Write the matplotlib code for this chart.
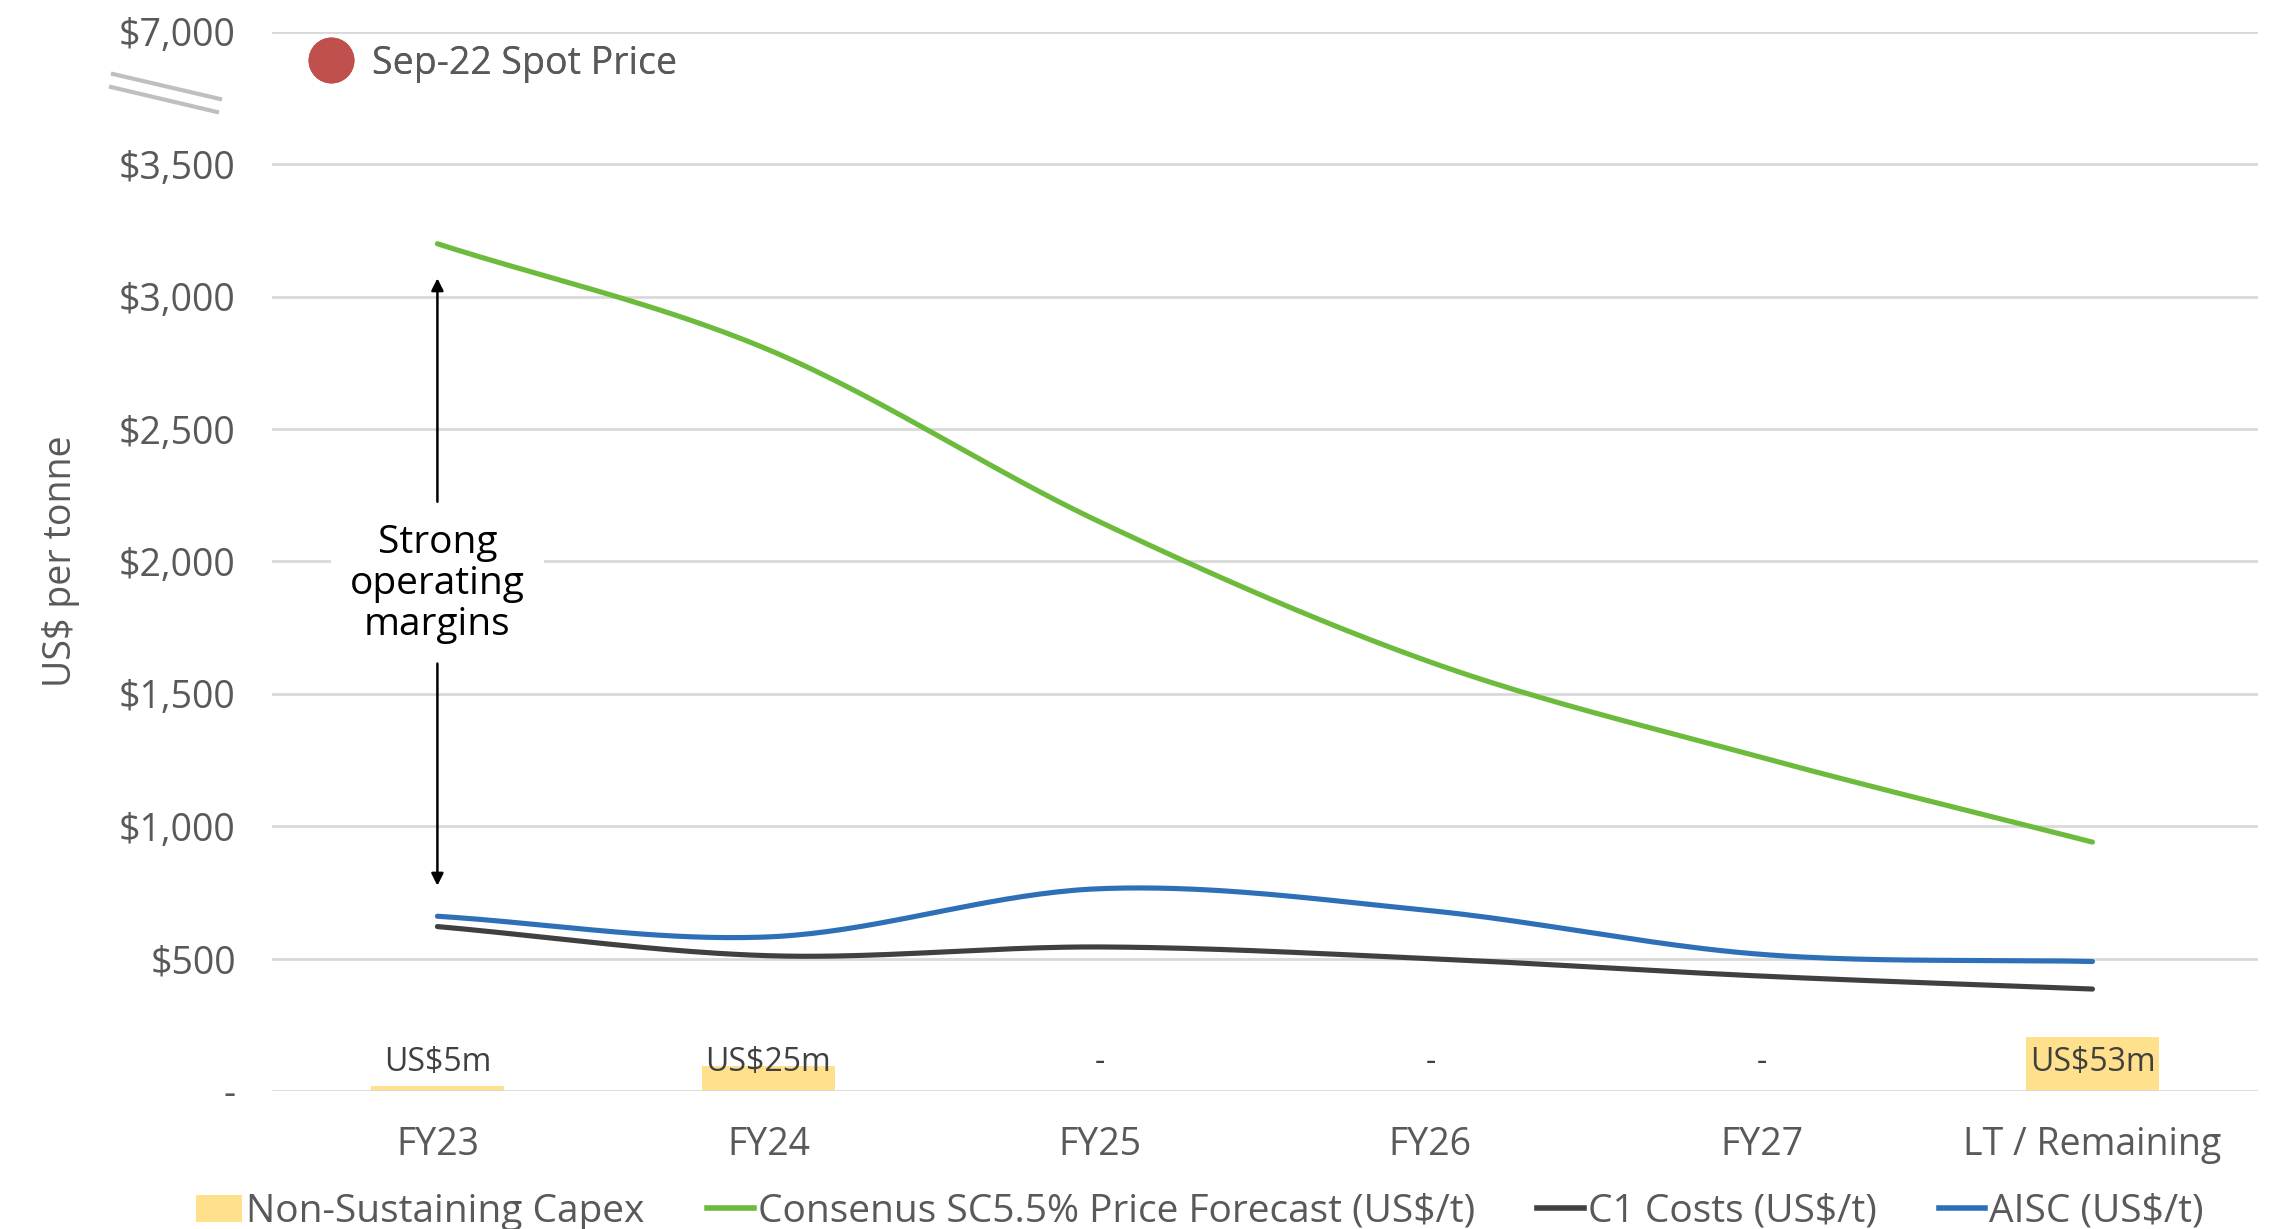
import numpy as np
import matplotlib.pyplot as plt
from matplotlib.lines import Line2D
from matplotlib.patches import Patch

plt.rcParams['font.family'] = ['Open Sans', 'DejaVu Sans']

# chart data
categories = ['FY23', 'FY24', 'FY25', 'FY26', 'FY27', 'LT / Remaining']
price_forecast = [3200, 2800, 2150, 1620, 1260, 940]
aisc = [660, 582, 764, 681, 516, 489]
c1_costs = [621, 511, 544, 500, 434, 385]
capex = [5, 25, 0, 0, 0, 53]
capex_labels = ['US$5m', 'US$25m', '-', '-', '-', 'US$53m']
y_ticks = [0, 500, 1000, 1500, 2000, 2500, 3000, 3500, 4000]
y_tick_labels = ['-', '$500', '$1,000', '$1,500', '$2,000', '$2,500', '$3,000', '$3,500', '$7,000']

grey_text = '#595959'
grid_col = '#d9d9d9'
c_green = '#6cbb3c'
c_blue = '#2e70b8'
c_black = '#404040'
c_yellow = '#ffe08c'
c_red = '#c0504d'
fs = 27


def smooth(xs, ys, n=40):
    # catmull-rom curve through the points, like excel's smoothed lines
    xs = np.asarray(xs, float)
    ys = np.asarray(ys, float)
    px = np.concatenate([[2 * xs[0] - xs[1]], xs, [2 * xs[-1] - xs[-2]]])
    py = np.concatenate([[2 * ys[0] - ys[1]], ys, [2 * ys[-1] - ys[-2]]])
    out_x, out_y = [], []
    t = np.linspace(0, 1, n)
    for i in range(1, len(px) - 2):
        for p, out in ((px, out_x), (py, out_y)):
            p0, p1, p2, p3 = p[i - 1], p[i], p[i + 1], p[i + 2]
            out.extend(0.5 * (2 * p1 + (-p0 + p2) * t + (2 * p0 - 5 * p1 + 4 * p2 - p3) * t ** 2
                              + (-p0 + 3 * p1 - 3 * p2 + p3) * t ** 3))
    return np.array(out_x), np.array(out_y)


fig = plt.figure(figsize=(22.81, 12.29), dpi=100)
ax = fig.add_axes([0.1192, 0.1123, 0.8707, 0.8617])
x = np.arange(len(categories))

# capex bars on a hidden secondary scale
ax2 = ax.twinx()
ax2.bar(x, capex, width=0.4, color=c_yellow, zorder=1)
ax2.set_ylim(0, 1045)
ax2.axis('off')
ax.set_zorder(ax2.get_zorder() + 1)
ax.patch.set_visible(False)

for yt in y_ticks:
    ax.axhline(yt, color=grid_col, lw=2, zorder=0)

for vals, col in ((price_forecast, c_green), (aisc, c_blue), (c1_costs, c_black)):
    sx, sy = smooth(x, vals)
    ax.plot(sx, sy, color=col, lw=3.7, solid_capstyle='round', zorder=3)

for xi, lab in zip(x, capex_labels):
    ax.text(xi, 108, lab, ha='center', va='center', fontsize=23, color=c_black, zorder=4)

ax.set_xlim(-0.5, 5.5)
ax.set_ylim(0, 4000)
ax.set_xticks(x)
ax.set_xticklabels(categories, fontsize=fs, color=grey_text)
ax.set_yticks(y_ticks)
ax.set_yticklabels(y_tick_labels, fontsize=fs, color=grey_text)
ax.tick_params(axis='both', length=0)
ax.tick_params(axis='y', pad=26)
ax.tick_params(axis='x', pad=25)
for s in ax.spines.values():
    s.set_visible(False)
ax.set_ylabel('US$ per tonne', fontsize=fs, color=grey_text, labelpad=28)

# margin annotation
ax.text(0, 1915, 'Strong\noperating\nmargins', ha='center', va='center', fontsize=28,
        color='black', linespacing=1.1, zorder=5,
        bbox=dict(facecolor='white', edgecolor='none', pad=14))
ax.annotate('', xy=(0, 3080), xytext=(0, 2215),
            arrowprops=dict(arrowstyle='-|>', color='black', lw=1.8, mutation_scale=18), zorder=5)
ax.annotate('', xy=(0, 765), xytext=(0, 1625),
            arrowprops=dict(arrowstyle='-|>', color='black', lw=1.8, mutation_scale=18), zorder=5)

# axis break marks
fig.add_artist(Line2D([113 / 2281, 220 / 2281], [1 - 74 / 1229, 1 - 99 / 1229], color='#bfbfbf', lw=3))
fig.add_artist(Line2D([111 / 2281, 217 / 2281], [1 - 87 / 1229, 1 - 112 / 1229], color='#bfbfbf', lw=3))

# spot price legend
spot = Line2D([], [], marker='o', color='none', markerfacecolor=c_red, markeredgecolor=c_red,
              markersize=32, label='Sep-22 Spot Price')
leg1 = ax.legend(handles=[spot], loc='upper left', bbox_to_anchor=(-0.006, 1.02), frameon=False,
                 fontsize=fs, handletextpad=0.1, labelcolor=grey_text)
ax.add_artist(leg1)

handles = [
    Patch(facecolor=c_yellow, edgecolor='none', label='Non-Sustaining Capex'),
    Line2D([], [], color=c_green, lw=4, label='Consenus SC5.5% Price Forecast (US$/t)'),
    Line2D([], [], color=c_black, lw=4, label='C1 Costs (US$/t)'),
    Line2D([], [], color=c_blue, lw=4, label='AISC (US$/t)'),
]
fig.legend(handles=handles, loc='lower center', bbox_to_anchor=(0.526, -0.03), ncol=4,
           frameon=False, fontsize=28, handlelength=1.2, handletextpad=0.1, columnspacing=1.6,
           labelcolor=grey_text)

fig.savefig('out.png', dpi=100)
